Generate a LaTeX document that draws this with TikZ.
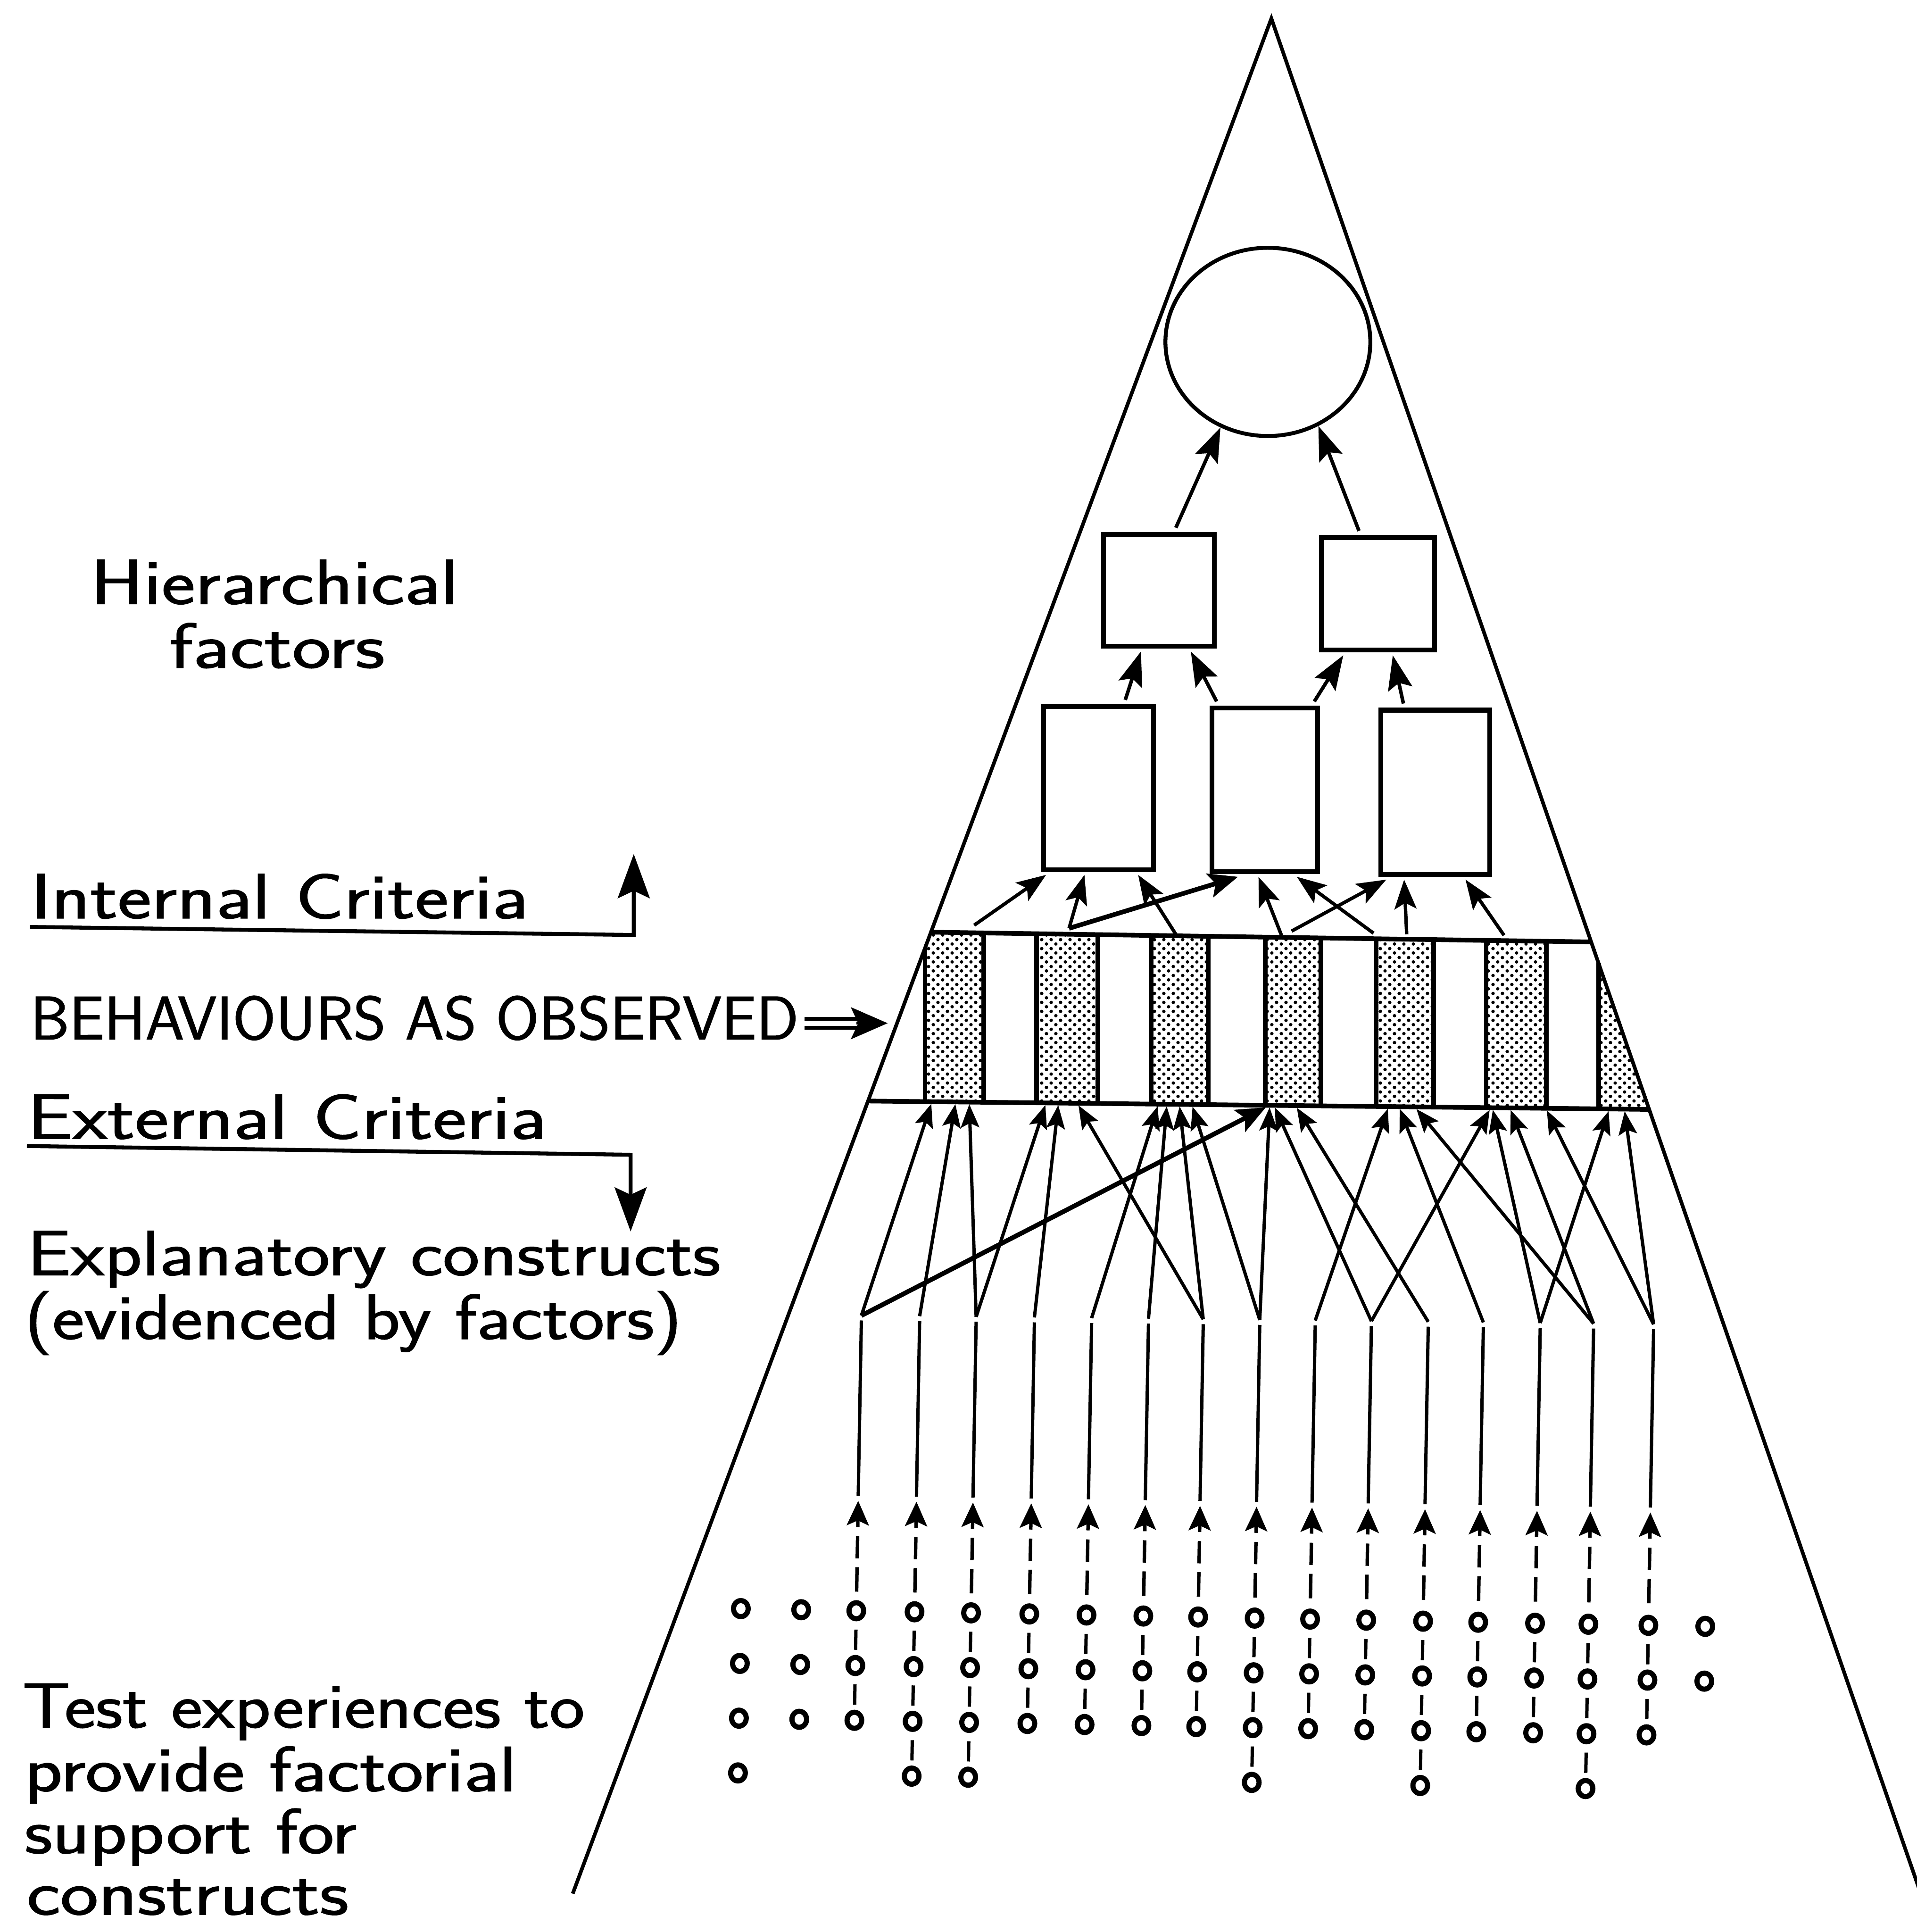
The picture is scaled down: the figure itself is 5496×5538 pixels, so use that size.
\documentclass[tikz,border=0pt]{standalone}
\usepackage{fontspec}
\usepackage{graphicx}
\newfontfamily\letterfont{lmsans17-regular.otf}[FakeBold=1.2]
\usetikzlibrary{arrows.meta,calc,shapes.geometric,patterns.meta}

% fine stipple used for the shaded stripes of the behaviour band
\tikzdeclarepattern{
  name=stipple,
  type=uncolored,
  bounding box={(0pt,0pt) and (3.84pt,3.7pt)},
  tile size={(3.84pt,3.7pt)},
  code={
    \pgfpathcircle{\pgfpoint{0.96pt}{0.925pt}}{0.7pt}
    \pgfpathcircle{\pgfpoint{2.88pt}{2.775pt}}{0.7pt}
    \pgfusepath{fill}
  }
}

\tikzset{
  hsmall/.tip={Stealth[length=9.5pt,width=7.5pt,inset=1.8pt]},
  hmid/.tip={Stealth[length=12pt,width=9pt,inset=2.5pt]},
  hbig/.tip={Stealth[length=14pt,width=10pt,inset=2.5pt]},
  hthick/.tip={Stealth[length=12pt,width=10pt,inset=2.5pt]},
  hdash/.tip={Stealth[length=10pt,width=9pt,inset=2pt]},
  hlabel/.tip={Stealth[length=18pt,width=13pt,inset=3pt]},
  himp/.tip={Stealth[length=15pt,width=13pt,inset=3pt]},
  edge/.style={line width=1.5pt},
  bandline/.style={line width=1.9pt},
  fbox/.style={draw, rectangle, line width=2pt, inner sep=0pt},
  conn/.style={line width=1.35pt},
  lowarr/.style={conn, -{hsmall}},
  midarr/.style={line width=1.4pt, -{hmid}},
  toparr/.style={line width=1.45pt, -{hbig}},
  thickarr/.style={line width=1.9pt, -{hthick}},
  dasharr/.style={line width=1.4pt, {hdash}-,
    dash pattern=on 3.1pt off 3.7pt on 9.1pt off 3.6pt on 10pt off 20pt},
  dotst/.style={line width=2.1pt},
  labline/.style={line width=1.6pt},
  lbl/.style={anchor=base west, inner sep=0pt, font=\fontsize{26pt}{30pt}\letterfont},
  lblcaps/.style={anchor=base west, inner sep=0pt, font=\fontsize{25pt}{30pt}\letterfont}
}

\begin{document}
\begin{tikzpicture}[x=0.005cm, y=-0.005cm,
  declare function={yT(\t)=2672+0.0149*(\t-2670); yB(\t)=3156+0.0108*(\t-2490);}]
\useasboundingbox (0,0) rectangle (5496,5538);
\fill[white] (0,0) rectangle (5496,5538);
\begin{scope}
\clip (0,0) rectangle (5496,5538);

% ---- shaded stripes of the behaviour band ----
\fill[pattern=stipple] (2670,2672) -- (2820,{yT(2820)}) -- (2820,{yB(2820)})
  -- (2652,{yB(2652)}) -- (2652,2718) -- cycle;
\foreach \xa/\xb in {2972/3148, 3300/3464, 3627/3787, 3946/4110, 4261/4433} {
  \fill[pattern=stipple] (\xa,{yT(\xa)}) -- (\xb,{yT(\xb)}) -- (\xb,{yB(\xb)})
    -- (\xa,{yB(\xa)}) -- cycle;
  \draw[bandline] (\xa,{yT(\xa)}) -- (\xa,{yB(\xa)}) (\xb,{yT(\xb)}) -- (\xb,{yB(\xb)});
}
\fill[pattern=stipple] (4583,2761) -- (4728,3180) -- (4583,{yB(4583)}) -- cycle;
\draw[bandline] (2652,2718) -- (2652,{yB(2652)});
\draw[bandline] (2820,{yT(2820)}) -- (2820,{yB(2820)});
\draw[bandline] (4583,2761) -- (4583,{yB(4583)});

% ---- the triangle ----
\coordinate (apex) at (3645,53);
\coordinate (footL) at (1642,5428);
\coordinate (footR) at (5545,5538);
\draw[edge] (footL) -- (apex) -- (footR);

% ---- band edges ----
\coordinate (bTL) at (2670,2672);
\coordinate (bTR) at (4560,2700);
\coordinate (bBL) at (2490,3156);
\coordinate (bBR) at (4728,3180);
\draw[bandline] (bTL) -- (bTR);
\draw[bandline] (bBL) -- (bBR);

% ---- factor boxes and the general factor ----
\node[draw, ellipse, line width=1.6pt, minimum width=2.94cm, minimum height=2.70cm,
  inner sep=0pt] (circ) at (3635,980) {};
\node[fbox, minimum width=1.59cm, minimum height=1.605cm] (tbL) at (3323,1692) {};
\node[fbox, minimum width=1.62cm, minimum height=1.615cm] (tbR) at (3951,1702) {};
\node[fbox, minimum width=1.58cm, minimum height=2.34cm] (mb1) at (3149,2259) {};
\node[fbox, minimum width=1.51cm, minimum height=2.345cm] (mb2) at (3626,2264) {};
\node[fbox, minimum width=1.565cm, minimum height=2.355cm] (mb3) at (4115,2271) {};

% second order to general factor
\draw[toparr] ($(tbL.north west)+(214,-12)$) -- (circ.241);
\draw[toparr] ($(tbR.north west)+(114,-12)$) -- (circ.-59);

% first order to second order
\draw[toparr] ($(mb1.north west)+(242,-12)$) -- ($(tbL.south west)+(114,8)$);
\draw[toparr] ($(mb2.north west)+(20,-12)$) -- ($(tbL.south west)+(257,8)$);
\draw[toparr] ($(mb2.north west)+(300,-12)$) -- ($(tbR.south west)+(69,8)$);
\draw[toparr] ($(mb3.north west)+(72,-12)$) -- ($(tbR.south west)+(211,8)$);

% band to first order factors
\coordinate (q1) at (2793,2652);
\coordinate (q2) at (3065,2661);
\coordinate (q4) at (3373,2681);
\coordinate (q5) at (3674,2681);
\coordinate (q6) at (3703,2669);
\coordinate (q7) at (3938,2675);
\coordinate (q8) at (4033,2678);
\coordinate (q9) at (4312,2681);
\draw[midarr] (q1) -- ($(mb1.south west)+(15,8)$);
\draw[midarr] (q2) -- ($(mb1.south west)+(125,8)$);
\draw[thickarr] (q2) -- ($(mb2.south west)+(81,8)$);
\draw[midarr] (q4) -- ($(mb1.south west)+(279,8)$);
\draw[midarr] (q5) -- ($(mb2.south west)+(140,8)$);
\draw[midarr] (q6) -- ($(mb3.south west)+(23,8)$);
\draw[midarr] (q7) -- ($(mb2.south west)+(250,8)$);
\draw[midarr] (q8) -- ($(mb3.south west)+(74,8)$);
\draw[midarr] (q9) -- ($(mb3.south west)+(250,8)$);

% ---- explanatory constructs: vertical lines with dashed support below ----
\foreach \xc [count=\k] in {2455,2622,2784,2951,3115,3278,3435,3597,3756,3917,4080,4238,4401,4554,4726} {
  \pgfmathsetmacro\yone{4611+0.0184*(\xc-2124)}
  \pgfmathsetmacro\ytop{3785+0.011*(\xc-2455)}
  \pgfmathsetmacro\xtop{\xc+0.0175*(\yone-\ytop)}
  \pgfmathsetmacro\ytip{4302+0.0147*(\xc-2455)}
  \pgfmathsetmacro\xtip{\xc+0.0175*(\yone-\ytip)}
  \pgfmathsetmacro\xlow{\xc+0.0175*39}
  \coordinate (u\k) at ({\xtop},{\ytop-14});
  \coordinate (c\k) at ({\xtop},{\ytop});
  \coordinate (s\k) at ({\xtip},{\ytip-14});
  \coordinate (a\k) at ({\xtip},{\ytip});
  \coordinate (d\k) at ({\xlow},{\yone-39});
}
\foreach \k in {1,...,15} {
  \draw[conn] (c\k) -- (s\k);
  \draw[dasharr] (a\k) -- (d\k);
}

% constructs to the band (external criteria)
\foreach \k/\tx [count=\n] in {1/2670, 2/2739, 3/2779, 3/2997, 4/3034, 5/3319, 6/3345,
    7/3092, 7/3382, 8/3419, 8/3640, 9/3979, 10/3655, 10/4271, 11/3718, 12/4013,
    13/4280, 13/4612, 14/4061, 14/4331, 15/4435, 15/4658} {
  \coordinate (bb\n) at (\tx,{yB(\tx)+6});
  \draw[lowarr] (u\k) -- (bb\n);
}
\coordinate (bbT) at (3629,{yB(3629)+6});
\draw[thickarr] (u1) -- (bbT);

% ---- test experiences: rows of small circles ----
\foreach \dc/\nd/\ds in {2124/4/0, 2297/3/0, 2455/3/1, 2622/4/1, 2784/4/1, 2951/3/1,
    3115/3/1, 3278/3/1, 3435/3/1, 3597/4/1, 3756/3/1, 3917/3/1, 4080/4/1, 4238/3/1,
    4401/3/1, 4554/4/1, 4726/3/1, 4889/2/0} {
  \pgfmathsetmacro\yone{4611+0.0184*(\dc-2124)}
  \foreach \r in {1,...,\nd} {
    \pgfmathsetmacro\yy{\yone+157*(\r-1)}
    \pgfmathsetmacro\xx{\dc-2.75*(\r-1)}
    \draw[dotst] (\xx,\yy) ellipse [x radius=0.105cm, y radius=0.115cm];
  }
  \ifnum\ds=1
    \foreach \r in {2,...,\nd} {
      \pgfmathsetmacro\yp{\yone+157*(\r-2)}
      \pgfmathsetmacro\xp{\dc-2.75*(\r-2)}
      \draw[conn] ({\xp-1},{\yp+54}) -- ({\xp-2},{\yp+112});
    }
  \fi
}

% ---- labels on the left ----
\node[lbl] (hier1) at (258,1731) {\resizebox{5.28cm}{\height}{Hierarchical}};
\node[lbl] (hier2) at (484,1914) {\resizebox{3.09cm}{\height}{factors}};
\node[lbl] (intc) at (86,2632) {\resizebox{7.145cm}{\height}{Internal Criteria}};
\node[lblcaps] (behav) at (86,2979) {\resizebox{11.02cm}{\height}{BEHAVIOURS AS OBSERVED}};
\node[lbl] (extc) at (77,3264) {\resizebox{7.45cm}{\height}{External Criteria}};
\node[lbl] (expl1) at (77,3655) {\resizebox{9.945cm}{\height}{Explanatory constructs}};
\node[lbl] (expl2) at (69,3838) {\resizebox{9.43cm}{\height}{(evidenced by factors)}};
\node[lbl] (test1) at (63,4952) {\resizebox{8.065cm}{\height}{Test experiences to}};
\node[lbl] (test2) at (69,5134) {\resizebox{7.06cm}{\height}{provide factorial}};
\node[lbl] (test3) at (69,5312) {\resizebox{4.765cm}{\height}{support for}};
\node[lbl] (test4) at (75,5488) {\resizebox{4.62cm}{\height}{constructs}};

% internal criteria: underline turning up
\coordinate (inA) at (86,2657);
\coordinate (inB) at (1817,2680);
\coordinate (inC) at (1817,2448);
\draw[labline, -{hlabel}] (inA) -- (inB) -- (inC);
% external criteria: underline turning down
\coordinate (exA) at (77,3285);
\coordinate (exB) at (1808,3310);
\coordinate (exC) at (1808,3530);
\draw[labline, -{hlabel}] (exA) -- (exB) -- (exC);

% double arrow pointing at the band
\coordinate (imA) at (2307,2920);
\coordinate (imB) at (2470,2920);
\coordinate (imC) at (2307,2946);
\coordinate (imD) at (2470,2946);
\coordinate (imS) at (2455,2933);
\coordinate (imT) at (2545,2933);
\draw[labline] (imA) -- (imB) (imC) -- (imD);
\draw[line width=1.2pt, -{himp}] (imS) -- (imT);
\end{scope}
\end{tikzpicture}
\end{document}
